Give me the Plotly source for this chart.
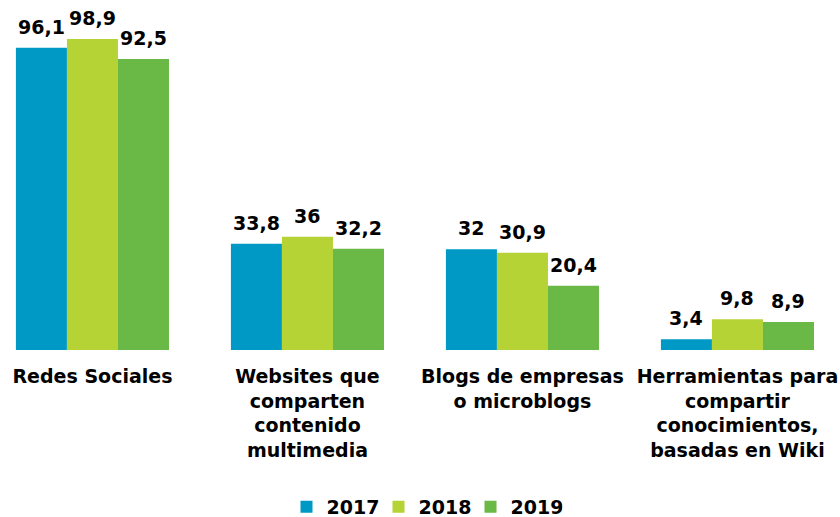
import plotly.graph_objects as go

categories = ["Redes Sociales",
              "Websites que<br>comparten<br>contenido<br>multimedia",
              "Blogs de empresas<br>o microblogs",
              "Herramientas para<br>compartir<br>conocimientos,<br>basadas en Wiki"]
years = ["2017", "2018", "2019"]
v2017 = [96.1, 33.8, 32.0, 3.4]
v2018 = [98.9, 36.0, 30.9, 9.8]
v2019 = [92.5, 32.2, 20.4, 8.9]
colors = ["#0099C6", "#B5D334", "#6AB946"]

FONT = "DejaVu Sans"
FS = 19
BARGAP = 0.288

def fmt(v):
    return f"{v:g}".replace(".", ",")

fig = go.Figure()
series = [v2017, v2018, v2019]
for name, vals, col in zip(years, series, colors):
    fig.add_trace(go.Bar(
        name=name, x=list(range(len(categories))), y=vals,
        marker=dict(color=col, line=dict(width=0)),
        cliponaxis=False, hoverinfo="y",
    ))

# value labels centred over each bar
bw = (1 - BARGAP) / len(series)
for j, vals in enumerate(series):
    for i, v in enumerate(vals):
        fig.add_annotation(
            x=i + (j - (len(series) - 1) / 2) * bw, y=v, xref="x", yref="y",
            text=fmt(v), showarrow=False, yanchor="middle", xanchor="center",
            yshift=21,
            font=dict(family=FONT, size=FS, color="#000000", weight="bold"),
        )

fig.update_layout(
    template="none",
    width=840, height=517,
    margin=dict(l=0, r=0, t=0, b=167, pad=0),
    paper_bgcolor="white", plot_bgcolor="white",
    barmode="group", bargap=BARGAP, bargroupgap=0,
    font=dict(family=FONT, size=FS, color="#000000", weight="bold"),
    showlegend=True,
    legend=dict(orientation="h", xref="container", yref="container",
                x=286.5 / 840, xanchor="left", y=1 - 507 / 517, yanchor="middle",
                entrywidth=47, entrywidthmode="pixels",
                font=dict(family=FONT, size=FS, color="#000000", weight="bold"),
                itemwidth=30, traceorder="normal", bgcolor="rgba(0,0,0,0)"),
    xaxis=dict(range=[-0.430, 3.477], showgrid=False, showline=False, zeroline=False,
               automargin=False, ticks="", tickmode="array",
               tickvals=list(range(len(categories))), ticktext=categories,
               ticklabelstandoff=13,
               tickfont=dict(family=FONT, size=FS, color="#000000", weight="bold")),
    yaxis=dict(range=[0, 111.3], visible=False, showgrid=False, zeroline=False,
               automargin=False),
)

fig.write_html("out.html", config={"displayModeBar": False},
               post_script="document.body.style.margin='0px';")
